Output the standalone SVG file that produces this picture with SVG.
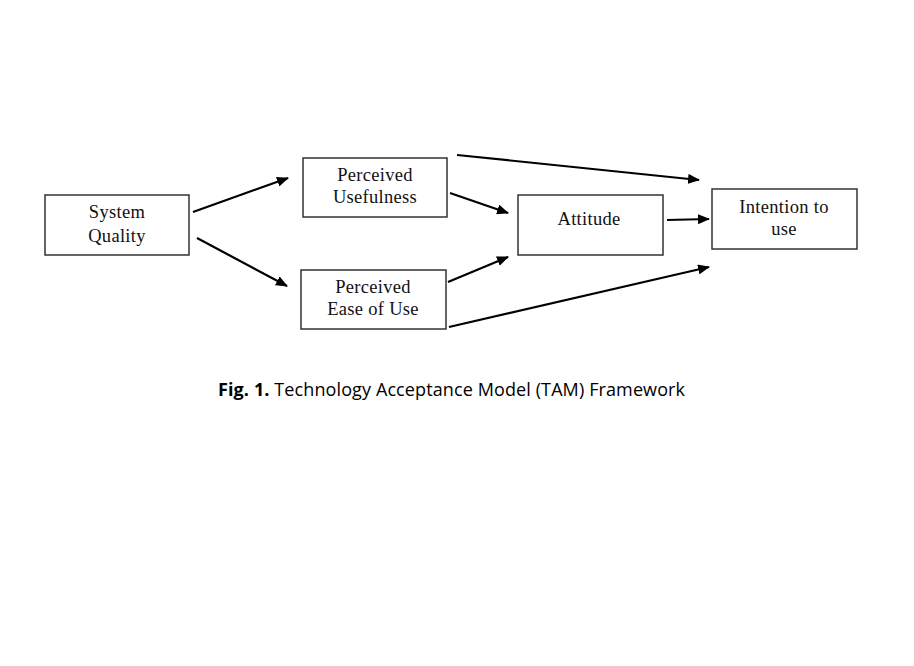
<svg xmlns="http://www.w3.org/2000/svg" width="914" height="666" viewBox="0 0 914 666">
<style>
.box{fill:#fff;stroke:#333;stroke-width:1.5}
.lbl{font-family:"Liberation Serif","Times New Roman",serif;font-size:18.5px;letter-spacing:0.3px;fill:#111;text-anchor:middle}
.cn{stroke:#000;stroke-width:2.2;fill:none;marker-end:url(#ah)}
.cap{font-family:"Open Sans","Noto Sans",sans-serif;font-size:18px;fill:#000}
</style>
<defs>
<marker id="ah" viewBox="0 0 12 10" refX="11" refY="5" markerWidth="12" markerHeight="10" markerUnits="userSpaceOnUse" orient="auto">
<path d="M0,0 L12,5 L0,10 Z" fill="#000"/>
</marker>
</defs>
<rect width="914" height="666" fill="#fff"/>
<g id="connectors">
<line class="cn" x1="193" y1="212" x2="288" y2="178"/>
<line class="cn" x1="197" y1="238" x2="287" y2="286"/>
<line class="cn" x1="457" y1="155" x2="699" y2="180"/>
<line class="cn" x1="450" y1="193" x2="508" y2="213"/>
<line class="cn" x1="448" y1="282" x2="508" y2="257"/>
<line class="cn" x1="667" y1="220" x2="709" y2="219"/>
<line class="cn" x1="449" y1="327" x2="709" y2="267"/>
</g>
<g id="system-quality">
<rect class="box" x="45" y="195" width="144" height="60"/>
<text class="lbl" x="117" y="218">System</text>
<text class="lbl" x="117" y="242">Quality</text>
</g>
<g id="perceived-usefulness">
<rect class="box" x="303" y="158" width="144" height="59"/>
<text class="lbl" x="375" y="181">Perceived</text>
<text class="lbl" x="375" y="203">Usefulness</text>
</g>
<g id="perceived-ease-of-use">
<rect class="box" x="301" y="270" width="145" height="59"/>
<text class="lbl" x="373" y="293">Perceived</text>
<text class="lbl" x="373" y="315">Ease of Use</text>
</g>
<g id="attitude">
<rect class="box" x="518" y="195" width="145" height="60"/>
<text class="lbl" x="589" y="225">Attitude</text>
</g>
<g id="intention-to-use">
<rect class="box" x="712" y="189" width="145" height="60"/>
<text class="lbl" x="784" y="213">Intention to</text>
<text class="lbl" x="784" y="235">use</text>
</g>
<g id="caption">
<text class="cap" x="218" y="396" textLength="467" lengthAdjust="spacing"><tspan font-weight="bold">Fig. 1.</tspan> Technology Acceptance Model (TAM) Framework</text>
</g>
</svg>
